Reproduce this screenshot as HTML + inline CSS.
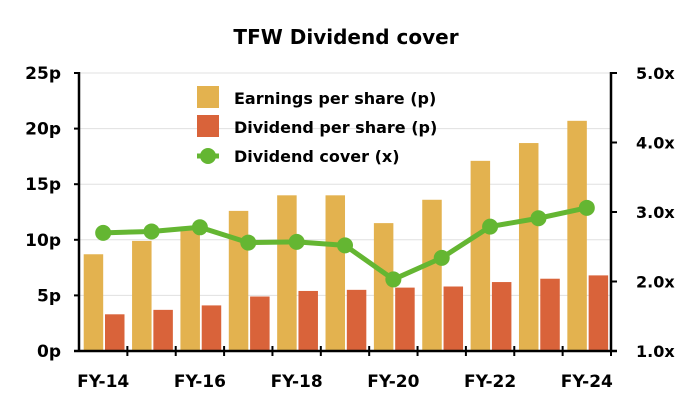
<!DOCTYPE html>
<html><head><meta charset="utf-8"><style>
body{margin:0;background:#fff}
svg text{font-family:"DejaVu Sans","Liberation Sans",sans-serif;font-weight:bold;fill:#000}
</style></head><body>
<svg width="700" height="400">
<text x="346" y="44" font-size="20" text-anchor="middle">TFW Dividend cover</text>
<g id="grid"></g>
<g id="bars"></g>
<g id="line"></g>
<g id="axes"></g>
<g>
<rect x="197" y="86" width="22" height="22" fill="#e3b24f"/>
<text x="234" y="104" font-size="16">Earnings per share (p)</text>
<rect x="197" y="115" width="22" height="22" fill="#d9633a"/>
<text x="234" y="133" font-size="16">Dividend per share (p)</text>
<line x1="197" y1="156" x2="219" y2="156" stroke="#64b632" stroke-width="5"/>
<circle cx="208" cy="156" r="8" fill="#64b632"/>
<text x="234" y="162" font-size="16">Dividend cover (x)</text>
</g>
</svg>
<script>
const categories=["FY-14","FY-15","FY-16","FY-17","FY-18","FY-19","FY-20","FY-21","FY-22","FY-23","FY-24"];
const eps=[8.7,9.9,11.2,12.6,14.0,14.0,11.5,13.6,17.1,18.7,20.7];
const dps=[3.3,3.7,4.1,4.9,5.4,5.5,5.7,5.8,6.2,6.5,6.8];
const cover=[2.70,2.72,2.78,2.56,2.57,2.52,2.03,2.34,2.79,2.91,3.06];
const leftTicks=[0,5,10,15,20,25];
const rightTicks=[1,2,3,4,5];
const NS="http://www.w3.org/2000/svg";
const X0=79,X1=611,Y0=351,Y1=73;
const bw=(X1-X0)/categories.length;
const yL=v=>Y0-(v/25)*(Y0-Y1);
const yR=v=>Y0-((v-1)/4)*(Y0-Y1);
const xC=i=>X0+bw*(i+0.5);
function mk(tag,attrs,parent){const e=document.createElementNS(NS,tag);for(const k in attrs)e.setAttribute(k,attrs[k]);document.getElementById(parent).appendChild(e);return e;}
leftTicks.forEach((t,i)=>{
 if(t>0){const g=mk('line',{x1:X0,x2:X1,y1:yL(t),y2:yL(t),stroke:'#e0e0e0','stroke-width':1},'grid');
 
 }
 const tk=mk('line',{x1:X0-5,x2:X0,y1:yL(t),y2:yL(t),stroke:'#000','stroke-width':2},'axes');
 
 
 const tx=mk('text',{x:61,y:yL(t)+6,'font-size':17,'text-anchor':'end'},'axes');tx.textContent=t+'p';
 
 
});
rightTicks.forEach(t=>{
 const tk=mk('line',{x1:X1,x2:X1+6,y1:yR(t),y2:yR(t),stroke:'#000','stroke-width':2},'axes');
 
 
 const tx=mk('text',{x:636,y:yR(t)+6,'font-size':16},'axes');tx.textContent=t.toFixed(1)+'x';
 
 
});
categories.forEach((c,i)=>{
 const x=X0+bw*i;
 const b1=mk('rect',{x:x+4.7,y:yL(eps[i]),width:19.5,height:Y0-yL(eps[i]),fill:'#e3b24f'},'bars');
 
 
 const b2=mk('rect',{x:x+26,y:yL(dps[i]),width:19.5,height:Y0-yL(dps[i]),fill:'#d9633a'},'bars');
 
 
 const tk=mk('line',{x1:x+bw,x2:x+bw,y1:Y0-5,y2:Y0+5,stroke:'#000','stroke-width':2},'axes');
 
 
 if(i%2===0){const tx=mk('text',{x:xC(i),y:387,'font-size':17,'text-anchor':'middle'},'axes');tx.textContent=c;
 
 }
});
const pl=mk('polyline',{points:cover.map((v,i)=>xC(i)+','+yR(v)).join(' '),fill:'none',stroke:'#64b632','stroke-width':5,'stroke-linejoin':'round'},'line');


cover.forEach((v,i)=>{const c=mk('circle',{cx:xC(i),cy:yR(v),r:8,fill:'#64b632'},'line');
 
 });
const a1=mk('line',{x1:X0,x2:X0,y1:Y1-1,y2:Y0+1,stroke:'#000','stroke-width':2.5},'axes');


const a2=mk('line',{x1:X1,x2:X1,y1:Y1-1,y2:Y0+1,stroke:'#000','stroke-width':2.5},'axes');


const a3=mk('line',{x1:X0-5,x2:X1+6,y1:Y0,y2:Y0,stroke:'#000','stroke-width':2.5},'axes');


</script>
</body></html>
